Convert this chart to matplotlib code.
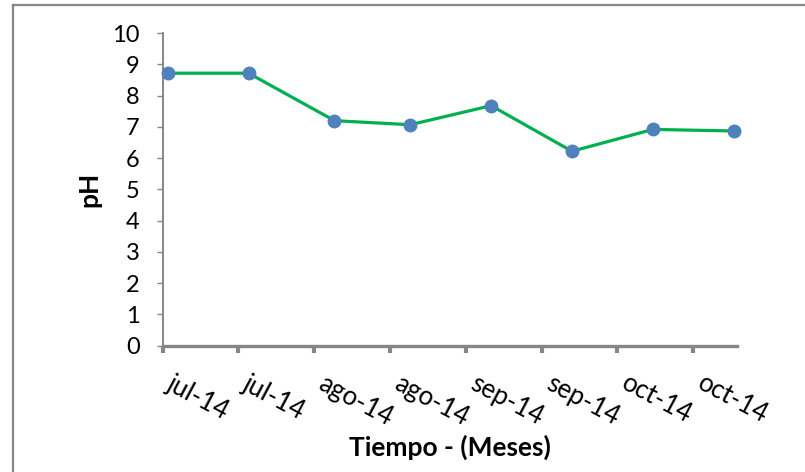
import matplotlib
matplotlib.use("Agg")
import matplotlib.pyplot as plt
from matplotlib.lines import Line2D

plt.rcParams['font.family'] = ['Lato', 'DejaVu Sans']

# dias desde el 1 de julio de 2014 para cada muestreo
dias = [1, 17, 34, 49, 65, 81, 97, 113]
ph = [8.72, 8.72, 7.2, 7.07, 7.68, 6.22, 6.92, 6.87]

# marcas del eje de fechas (cada 15 dias)
dias_marcas = [0, 15, 30, 45, 60, 75, 90, 105]
etiquetas = ['jul-14', 'jul-14', 'ago-14', 'ago-14', 'sep-14', 'sep-14', 'oct-14', 'oct-14']

fig = plt.figure(figsize=(8.05, 4.72), dpi=100)
ax = fig.add_axes([0.2021, 0.268, 0.7134, 0.6616])

ax.plot(dias, ph, color='#00B050', linewidth=2.3, marker='o',
        markersize=9, markerfacecolor='#4F81BD', markeredgecolor='#4F81BD',
        zorder=3, clip_on=False)

ax.set_xlim(0, 113.65)
ax.set_ylim(0, 10)
ax.set_yticks(range(0, 11))
ax.set_xticks(dias_marcas)
ax.set_xticklabels(etiquetas, rotation=-28, ha='left', va='top',
                   rotation_mode='default', fontsize=18.5)
for t in ax.get_yticklabels():
    t.set_fontsize(17)

gris = '#868686'
for lado in ['top', 'right']:
    ax.spines[lado].set_visible(False)
ax.spines['left'].set_color(gris)
ax.spines['left'].set_linewidth(1.4)
ax.spines['bottom'].set_color(gris)
ax.spines['bottom'].set_linewidth(2.4)
ax.tick_params(axis='y', direction='out', length=4.5, width=1.0, color=gris, pad=12)
ax.tick_params(axis='x', direction='out', length=5, width=3, color=gris, pad=13)

ax.set_ylabel('pH', fontsize=19, fontweight='bold', labelpad=8)
ax.set_xlabel('Tiempo - (Meses)', fontsize=19, fontweight='bold', labelpad=3)

# marco del grafico
fig.add_artist(Line2D([12.5 / 805, 1], [1 - 5 / 472, 1 - 5 / 472],
                      transform=fig.transFigure, color=gris, linewidth=1.6))
fig.add_artist(Line2D([12.5 / 805, 12.5 / 805], [0, 1 - 5 / 472],
                      transform=fig.transFigure, color=gris, linewidth=1.6))

fig.savefig('out.png', dpi=100)
